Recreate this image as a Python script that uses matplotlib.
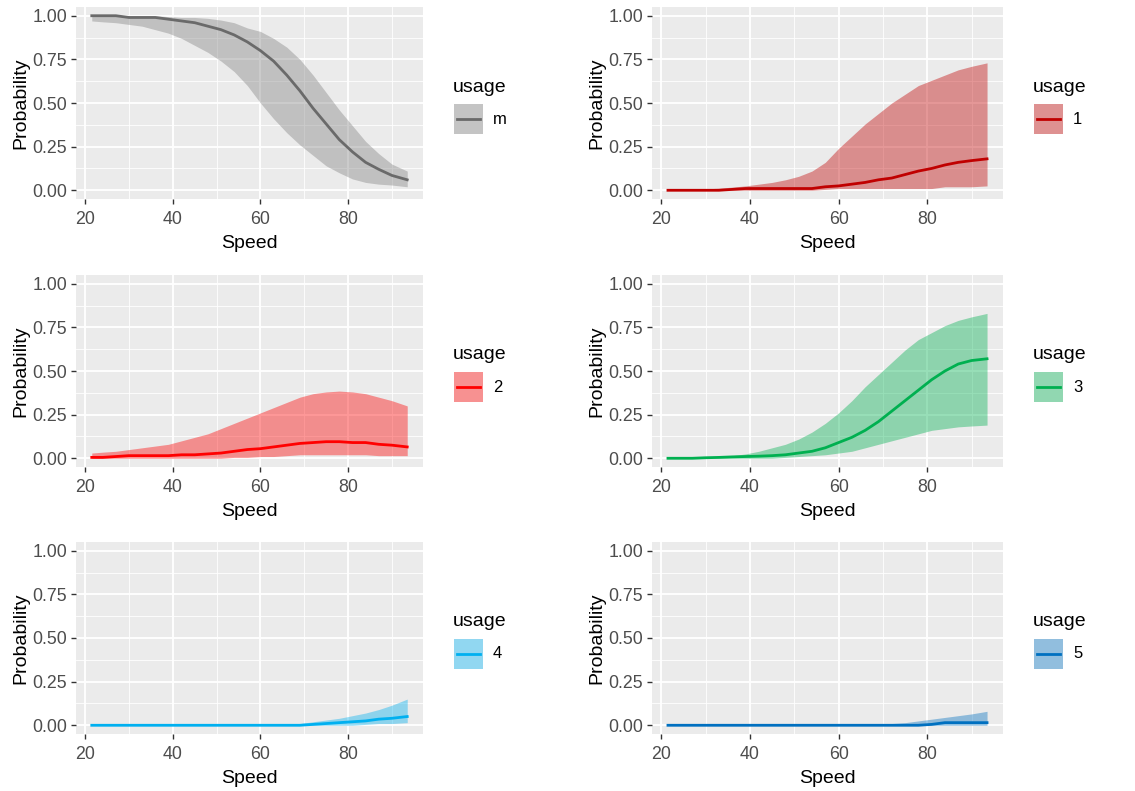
import matplotlib.pyplot as plt
from matplotlib.patches import Rectangle
from matplotlib.lines import Line2D
from matplotlib.ticker import MultipleLocator

plt.rcParams["font.family"] = ["Liberation Sans", "DejaVu Sans"]

speed = [21.5, 24, 27, 30, 33, 36, 39, 42, 45, 48, 51, 54, 57, 60, 63, 66,
         69, 72, 75, 78, 81, 84, 87, 90, 93.5]

usage_labels = ["m", "1", "2", "3", "4", "5"]
line_colors = ["#6A6A6A", "#C00000", "#FF0000", "#00B050", "#00B0F0", "#0070C0"]
fill_colors = ["#808080", "#C00000", "#FF0000", "#00B050", "#00B0F0", "#0070C0"]

# mean probability per usage
mean_m = [1.00, 1.00, 1.00, 0.99, 0.99, 0.99, 0.98, 0.97, 0.96, 0.94, 0.92, 0.89, 0.85,
          0.80, 0.74, 0.66, 0.57, 0.47, 0.38, 0.29, 0.22, 0.16, 0.12, 0.085, 0.06]
mean_1 = [0, 0, 0, 0, 0, 0.005, 0.01, 0.01, 0.01, 0.01, 0.01, 0.01, 0.02, 0.025, 0.035,
          0.045, 0.06, 0.07, 0.09, 0.11, 0.125, 0.145, 0.16, 0.17, 0.18]
mean_2 = [0.005, 0.005, 0.01, 0.015, 0.015, 0.015, 0.015, 0.02, 0.02, 0.025, 0.03, 0.04,
          0.05, 0.055, 0.065, 0.075, 0.085, 0.09, 0.095, 0.095, 0.09, 0.09, 0.08, 0.075, 0.065]
mean_3 = [0, 0, 0, 0.003, 0.005, 0.008, 0.01, 0.012, 0.015, 0.02, 0.03, 0.04, 0.06, 0.09,
          0.12, 0.16, 0.21, 0.27, 0.33, 0.39, 0.45, 0.50, 0.54, 0.56, 0.57]
mean_4 = [0, 0, 0, 0, 0, 0, 0, 0, 0, 0, 0, 0, 0, 0, 0, 0, 0, 0.005, 0.01, 0.015, 0.02,
          0.025, 0.035, 0.04, 0.05]
mean_5 = [0, 0, 0, 0, 0, 0, 0, 0, 0, 0, 0, 0, 0, 0, 0, 0, 0, 0, 0, 0, 0.005, 0.015,
          0.015, 0.015, 0.015]

# upper bound
upper_m = [1.00, 1.00, 1.00, 1.00, 1.00, 1.00, 0.995, 0.99, 0.99, 0.985, 0.975, 0.96, 0.93,
           0.91, 0.87, 0.82, 0.75, 0.66, 0.56, 0.46, 0.37, 0.28, 0.21, 0.15, 0.11]
upper_1 = [0, 0.003, 0.005, 0.008, 0.012, 0.018, 0.025, 0.035, 0.045, 0.06, 0.08, 0.11,
           0.16, 0.24, 0.31, 0.38, 0.44, 0.50, 0.55, 0.60, 0.63, 0.66, 0.69, 0.71, 0.73]
upper_2 = [0.03, 0.035, 0.04, 0.05, 0.06, 0.07, 0.08, 0.10, 0.12, 0.14, 0.17, 0.20, 0.23,
           0.26, 0.29, 0.32, 0.35, 0.37, 0.38, 0.385, 0.38, 0.37, 0.35, 0.33, 0.30]
upper_3 = [0, 0, 0.003, 0.006, 0.01, 0.015, 0.025, 0.04, 0.06, 0.08, 0.11, 0.15, 0.20,
           0.26, 0.33, 0.41, 0.48, 0.55, 0.62, 0.68, 0.72, 0.76, 0.79, 0.81, 0.83]
upper_4 = [0, 0, 0, 0, 0, 0, 0, 0, 0, 0, 0, 0, 0, 0, 0, 0.003, 0.01, 0.02, 0.03, 0.04,
           0.055, 0.07, 0.09, 0.115, 0.15]
upper_5 = [0, 0, 0, 0, 0, 0, 0, 0, 0, 0, 0, 0, 0, 0, 0, 0, 0, 0.01, 0.015, 0.025, 0.035,
           0.045, 0.055, 0.065, 0.08]

# lower bound
lower_m = [0.97, 0.965, 0.96, 0.95, 0.94, 0.92, 0.90, 0.87, 0.83, 0.79, 0.74, 0.68, 0.60,
           0.50, 0.41, 0.33, 0.26, 0.20, 0.14, 0.10, 0.065, 0.045, 0.035, 0.03, 0.02]
lower_1 = [0, 0, 0, 0, 0, 0, 0, 0, 0, 0, 0, 0, 0.005, 0.01, 0.01, 0.01, 0.01, 0.01, 0.01,
           0.01, 0.01, 0.02, 0.02, 0.02, 0.025]
lower_2 = [0, 0, 0, 0, 0, 0, 0, 0, 0, 0, 0, 0.005, 0.005, 0.01, 0.01, 0.015, 0.02, 0.02,
           0.02, 0.02, 0.02, 0.02, 0.015, 0.015, 0.015]
lower_3 = [0, 0, 0, 0, 0, 0, 0, 0, 0, 0.005, 0.01, 0.015, 0.02, 0.03, 0.04, 0.06, 0.08,
           0.10, 0.12, 0.14, 0.16, 0.17, 0.18, 0.185, 0.19]
lower_4 = [0, 0, 0, 0, 0, 0, 0, 0, 0, 0, 0, 0, 0, 0, 0, 0, 0, 0, 0, 0, 0, 0.005, 0.01,
           0.01, 0.015]
lower_5 = [0] * 25

means = [mean_m, mean_1, mean_2, mean_3, mean_4, mean_5]
uppers = [upper_m, upper_1, upper_2, upper_3, upper_4, upper_5]
lowers = [lower_m, lower_1, lower_2, lower_3, lower_4, lower_5]

W, H = 1135, 791
fig = plt.figure(figsize=(W / 100, H / 100), dpi=100)

col_left = [76, 652]
col_width = [347, 351]
row_top = [7, 275, 542]
panel_h = 192


def draw_legend(px, py, label, lc, fc):
    # px, py: left / middle of the legend title, in pixels
    fig.text(px / W, 1 - py / H, "usage", fontsize=14, color="black",
             ha="left", va="center")
    kx, ky, kw, kh = px + 1, py + 17, 29, 30
    fig.patches.append(Rectangle((kx / W, 1 - (ky + kh) / H), kw / W, kh / H,
                                 transform=fig.transFigure, facecolor="#F2F2F2",
                                 edgecolor="none"))
    fig.patches.append(Rectangle((kx / W, 1 - (ky + kh) / H), kw / W, kh / H,
                                 transform=fig.transFigure, facecolor=fc, alpha=0.4,
                                 edgecolor="none"))
    fig.lines.append(Line2D([(kx + 3) / W, (kx + kw - 3) / W],
                            [1 - (ky + kh / 2) / H] * 2, transform=fig.transFigure,
                            color=lc, lw=2))
    fig.text((kx + kw + 10) / W, 1 - (ky + kh / 2) / H, label, fontsize=12,
             color="black", ha="left", va="center")


for i in range(6):
    r, c = divmod(i, 2)
    left = col_left[c] / W
    bottom = 1 - (row_top[r] + panel_h) / H
    ax = fig.add_axes([left, bottom, col_width[c] / W, panel_h / H])
    ax.set_facecolor("#EBEBEB")
    for s in ax.spines.values():
        s.set_visible(False)

    ax.fill_between(speed, lowers[i], uppers[i], color=fill_colors[i], alpha=0.4,
                    linewidth=0)
    ax.plot(speed, means[i], color=line_colors[i], lw=2)

    ax.set_xlim(17.9, 97.1)
    ax.set_ylim(-0.05, 1.05)
    ax.set_xticks([20, 40, 60, 80])
    ax.xaxis.set_minor_locator(MultipleLocator(10))
    ax.set_yticks([0, 0.25, 0.5, 0.75, 1.0])
    ax.set_yticklabels(["0.00", "0.25", "0.50", "0.75", "1.00"])
    ax.yaxis.set_minor_locator(MultipleLocator(0.125))
    ax.grid(which="major", color="white", lw=1.3)
    ax.grid(which="minor", color="white", lw=0.6)
    ax.set_axisbelow(True)
    ax.tick_params(which="major", length=3.5, width=1, color="#333333",
                   labelsize=12.8, labelcolor="#4D4D4D", pad=3)
    ax.tick_params(axis="x", which="major", pad=5)
    ax.tick_params(which="minor", length=0)
    ax.set_xlabel("Speed", fontsize=14, labelpad=5)
    ax.set_ylabel("Probability", fontsize=14, labelpad=2)

    leg_x = col_left[c] + col_width[c] + 30
    leg_y = row_top[r] + 80
    draw_legend(leg_x, leg_y, usage_labels[i], line_colors[i], fill_colors[i])

fig.savefig("out.png", dpi=100)
